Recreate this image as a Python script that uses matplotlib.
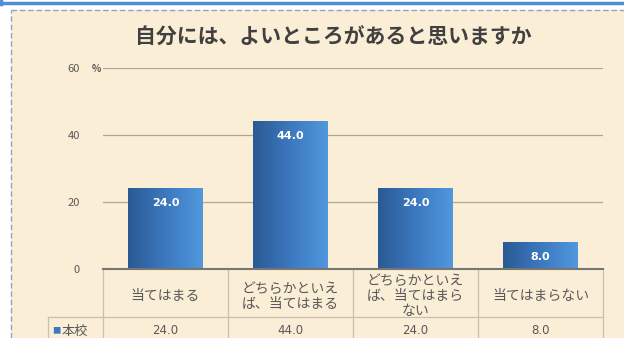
import numpy as np
import matplotlib
matplotlib.use("Agg")
import matplotlib.pyplot as plt
from matplotlib.patches import Rectangle
from matplotlib.colors import LinearSegmentedColormap
from matplotlib.lines import Line2D

plt.rcParams['font.family'] = ['Noto Sans CJK JP', 'DejaVu Sans']

title = "自分には、よいところがあると思いますか"
categories = ["当てはまる", "どちらかといえ\nば、当てはまる", "どちらかといえ\nば、当てはまら\nない", "当てはまらない"]
values = [24.0, 44.0, 24.0, 8.0]
series_name = "本校"
yticks = [0, 20, 40, 60]

W, H = 624, 338
fig = plt.figure(figsize=(W / 100, H / 100), dpi=100, facecolor="white")

def fx(px):
    return px / W

def fy(py):
    return 1 - py / H

# parchment background
bg = "#FBEED6"
fig.patches.append(Rectangle((fx(11), 0), 1 - fx(11), fy(10), transform=fig.transFigure,
                             facecolor=bg, edgecolor="none", zorder=-10))
# blue frame at the top
fig.lines.append(Line2D([0, 1], [fy(3), fy(3)], transform=fig.transFigure, color="#4F8FD8", lw=2.5, zorder=-5))
fig.lines.append(Line2D([fx(1), fx(1)], [1, fy(4)], transform=fig.transFigure, color="#4F8FD8", lw=2.5, zorder=-5))
# dashed border
fig.lines.append(Line2D([fx(11), 1], [fy(10), fy(10)], transform=fig.transFigure, color="#8EA6C4",
                        lw=1.0, ls=(0, (4, 2)), zorder=-5))
fig.lines.append(Line2D([fx(11), fx(11)], [0, fy(10)], transform=fig.transFigure, color="#8EA6C4",
                        lw=1.0, ls=(0, (4, 2)), zorder=-5))

left, right, y0, y60 = 103, 603, 269, 68
ax = fig.add_axes([fx(left), fy(y0), fx(right) - fx(left), fy(y60) - fy(y0)])
ax.set_zorder(5)
ax.patch.set_visible(False)
ax.set_xlim(-0.5, len(categories) - 0.5)
ax.set_ylim(0, 60)
ax.set_yticks(yticks)
ax.set_yticklabels([str(t) for t in yticks])
ax.tick_params(axis="y", length=0, pad=16.5, labelsize=8, labelcolor="#595959")
ax.set_xticks([])
for s in ["top", "right", "left"]:
    ax.spines[s].set_visible(False)
ax.spines["bottom"].set_color("#767676")
ax.spines["bottom"].set_linewidth(1.5)
ax.spines["bottom"].set_zorder(4)
for t in yticks[1:]:
    ax.axhline(t, color="#ADA79C", lw=0.9, zorder=1)
fig.text(fx(96), fy(y60 + 1), "%", ha="center", va="center", fontsize=7,
         color="#595959", fontweight="bold")

cmap = LinearSegmentedColormap.from_list("bar", ["#2A5A94", "#3C78BF", "#5198DC"])
grad = np.linspace(0, 1, 256).reshape(1, -1)
width = 0.6
bars = ax.bar(range(len(values)), values, width=width, color="none", edgecolor="none", zorder=2)
for b, v in zip(bars, values):
    x0, w, h = b.get_x(), b.get_width(), b.get_height()
    ax.imshow(grad, extent=[x0, x0 + w, 0, h], aspect="auto", cmap=cmap, zorder=2,
              interpolation="bilinear")
    ax.text(x0 + w / 2, h - 4.3, f"{v:.1f}", ha="center", va="center", color="white",
            fontsize=8, fontweight="bold", zorder=3, family="DejaVu Sans")
ax.set_xlim(-0.5, len(categories) - 0.5)
ax.set_ylim(0, 60)

# title
fig.text(fx(333), fy(37), title, ha="center", va="center", fontsize=15, fontweight="bold",
         color="#404040")

# data table below
tcol = "#C9BFAF"
row1_bot, row2_bot = 317, 345
for i in range(len(categories) + 1):
    xl = left + i * (right - left) / len(categories)
    fig.lines.append(Line2D([fx(xl), fx(xl)], [fy(y0), fy(row2_bot)], transform=fig.transFigure,
                            color=tcol, lw=0.9))
fig.lines.append(Line2D([fx(48), fx(right)], [fy(row1_bot), fy(row1_bot)],
                        transform=fig.transFigure, color=tcol, lw=0.9))
fig.lines.append(Line2D([fx(48), fx(48)], [fy(row1_bot), 0],
                        transform=fig.transFigure, color=tcol, lw=0.9))
for i, (c, v) in enumerate(zip(categories, values)):
    xc = left + (i + 0.5) * (right - left) / len(categories)
    fig.text(fx(xc), fy(296), c, ha="center", va="center", fontsize=10,
             color="#595959", linespacing=1.08)
    fig.text(fx(xc), fy(331), f"{v:.1f}", ha="center", va="center", fontsize=8.5,
             color="#595959", family="DejaVu Sans")
fig.text(fx(52), fy(331), "■", ha="left", va="center", fontsize=6, color="#3C78BF")
fig.text(fx(62), fy(331), series_name, ha="left", va="center", fontsize=9.5, color="#595959")

fig.savefig("out.png", dpi=100, facecolor="white")
